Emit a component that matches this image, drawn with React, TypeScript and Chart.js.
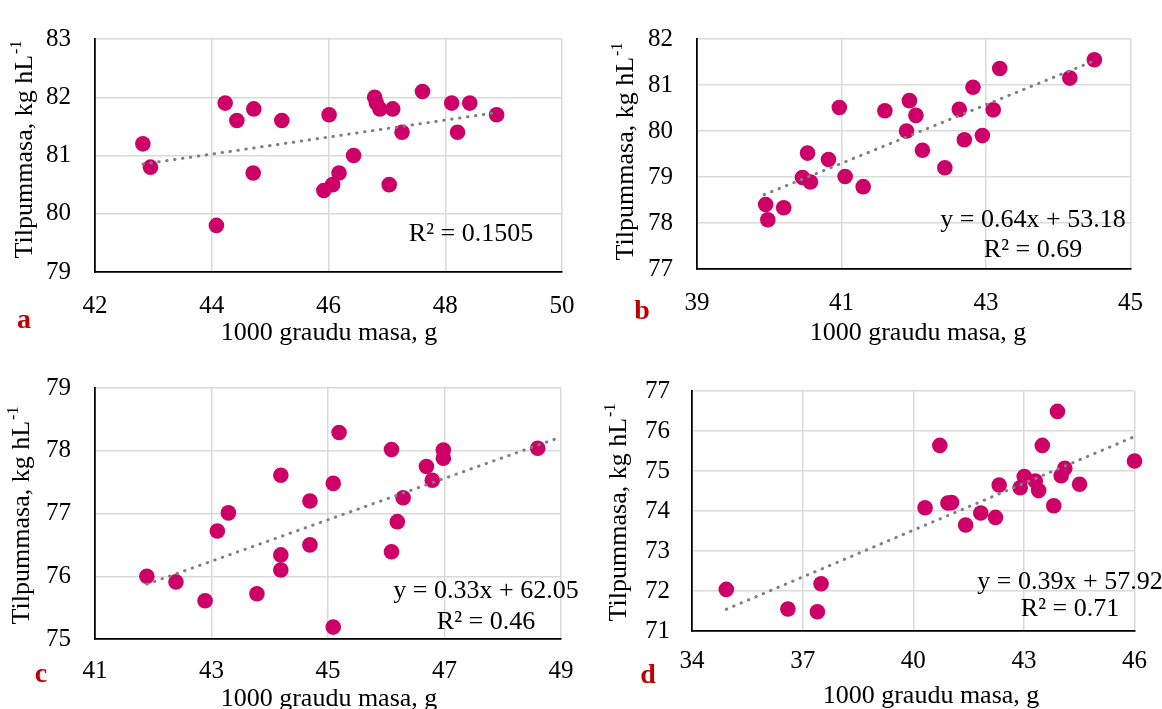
import React, { useEffect, useRef } from "react";
import { Chart, registerables } from "chart.js";

Chart.register(...registerables);

const FONT = '"Liberation Serif", "Times New Roman", Times, serif';
const W = 1162;
const H = 709;

// ---------- Panel a ----------
const aX = [42.82, 42.95, 44.08, 44.23, 44.43, 44.72, 44.71, 45.2, 46.01, 45.92, 46.07, 46.18, 46.43, 46.79, 46.82, 46.88, 47.1, 47.04, 47.26, 47.61, 48.11, 48.42, 48.21, 48.88];
const aY = [81.2, 80.8, 79.8, 81.9, 81.6, 81.8, 80.7, 81.6, 81.7, 80.4, 80.5, 80.7, 81.0, 82.0, 81.9, 81.8, 81.8, 80.5, 81.4, 82.1, 81.9, 81.9, 81.4, 81.7];
const aXTicks = [42, 44, 46, 48, 50];
const aYTicks = [79, 80, 81, 82, 83];
const aTrendCoef = [0.146, 74.6];
const aTrendRange = [42.82, 48.88];
const aEquation = ["R² = 0.1505"];

// ---------- Panel b ----------
const bX = [39.95, 39.98, 40.2, 40.46, 40.57, 40.53, 40.82, 40.97, 41.05, 41.3, 41.6, 41.9, 41.94, 42.03, 42.12, 42.43, 42.63, 42.7, 42.82, 42.95, 43.1, 43.19, 44.16, 44.5];
const bY = [78.4, 78.07, 78.33, 78.99, 78.89, 79.52, 79.38, 80.51, 79.01, 78.79, 80.44, 80.0, 80.66, 80.34, 79.58, 79.2, 80.47, 79.81, 80.95, 79.9, 80.46, 81.36, 81.15, 81.55];
const bXTicks = [39, 41, 43, 45];
const bYTicks = [77, 78, 79, 80, 81, 82];
const bTrendCoef = [0.637, 53.18];
const bTrendRange = [39.93, 44.48];
const bEquation = ["y = 0.64x + 53.18", "R² = 0.69"];

// ---------- Panel c ----------
const cX = [41.89, 42.39, 42.89, 43.1, 43.29, 43.78, 44.19, 44.19, 44.19, 44.69, 44.69, 45.09, 45.19, 45.09, 46.09, 46.09, 46.19, 46.29, 46.69, 46.79, 46.98, 46.98, 48.6];
const cY = [76.0, 75.91, 75.61, 76.72, 77.01, 75.72, 77.61, 76.34, 76.1, 77.2, 76.5, 77.48, 78.29, 75.19, 78.02, 76.39, 76.87, 77.25, 77.75, 77.53, 78.01, 77.88, 78.04];
const cXTicks = [41, 43, 45, 47, 49];
const cYTicks = [75, 76, 77, 78, 79];
const cTrendCoef = [0.33, 62.05];
const cTrendRange = [41.89, 49];
const cEquation = ["y = 0.33x + 62.05", "R² = 0.46"];

// ---------- Panel d ----------
const dX = [34.93, 36.6, 37.4, 37.5, 40.32, 40.72, 40.94, 41.04, 41.42, 41.83, 42.23, 42.33, 42.9, 43.01, 43.31, 43.4, 43.5, 43.81, 43.91, 44.01, 44.11, 44.51, 46.0];
const dY = [72.04, 71.55, 71.48, 72.18, 74.08, 75.64, 74.2, 74.21, 73.65, 73.95, 73.84, 74.65, 74.58, 74.86, 74.75, 74.51, 75.64, 74.13, 76.49, 74.88, 75.07, 74.67, 75.25];
const dXTicks = [34, 37, 40, 43, 46];
const dYTicks = [71, 72, 73, 74, 75, 76, 77];
const dTrendCoef = [0.39, 57.92];
const dTrendRange = [34.93, 46];
const dEquation = ["y = 0.39x + 57.92", "R² = 0.71"];

const X_TITLE = "1000 graudu masa, g";
const Y_TITLE = "Tilpummasa, kg hL";
const Y_TITLE_SUP = "-1";

type Panel = {
  letter: string;
  xs: number[];
  ys: number[];
  xTicks: number[];
  yTicks: number[];
  trendCoef: number[];
  trendRange: number[];
  equation: string[];
  plot: { l: number; r: number; t: number; b: number };
  xTickPad: number;
  yTickPad: number;
  eq: { x: number; y: number; gap: number };
  xTitle: { x: number; y: number };
  yTitle: { x: number; y: number };
  letterPos: { x: number; y: number };
};

const panels: Panel[] = [
  {
    letter: "a", xs: aX, ys: aY, xTicks: aXTicks, yTicks: aYTicks,
    trendCoef: aTrendCoef, trendRange: aTrendRange, equation: aEquation,
    plot: { l: 95, r: 562, t: 25, b: 272 }, xTickPad: 19, yTickPad: 24,
    eq: { x: 471, y: 241, gap: 30 }, xTitle: { x: 329, y: 340 }, yTitle: { x: 26, y: 150 },
    letterPos: { x: 24, y: 328 },
  },
  {
    letter: "b", xs: bX, ys: bY, xTicks: bXTicks, yTicks: bYTicks,
    trendCoef: bTrendCoef, trendRange: bTrendRange, equation: bEquation,
    plot: { l: 697, r: 1139, t: 31, b: 269 }, xTickPad: 19, yTickPad: 24,
    eq: { x: 1033, y: 227, gap: 30 }, xTitle: { x: 918, y: 340 }, yTitle: { x: 627, y: 152 },
    letterPos: { x: 642, y: 319 },
  },
  {
    letter: "c", xs: cX, ys: cY, xTicks: cXTicks, yTicks: cYTicks,
    trendCoef: cTrendCoef, trendRange: cTrendRange, equation: cEquation,
    plot: { l: 95, r: 561, t: 388, b: 639 }, xTickPad: 17, yTickPad: 24,
    eq: { x: 486, y: 598, gap: 31 }, xTitle: { x: 329, y: 706 }, yTitle: { x: 23, y: 516 },
    letterPos: { x: 41, y: 682 },
  },
  {
    letter: "d", xs: dX, ys: dY, xTicks: dXTicks, yTicks: dYTicks,
    trendCoef: dTrendCoef, trendRange: dTrendRange, equation: dEquation,
    plot: { l: 692, r: 1138, t: 391, b: 631 }, xTickPad: 15, yTickPad: 22,
    eq: { x: 1070, y: 589, gap: 27 }, xTitle: { x: 931, y: 703 }, yTitle: { x: 620, y: 513 },
    letterPos: { x: 648, y: 683 },
  },
];

const Y_AXIS_W = 60;
const X_AXIS_H = 50;

function makeChart(canvas: HTMLCanvasElement, p: Panel) {
  const points = p.xs.map((x, i) => ({ x, y: p.ys[i] }));
  const trend = p.trendRange.map((x) => ({ x, y: p.trendCoef[0] * x + p.trendCoef[1] }));

  const annotations = {
    id: "annot" + p.letter,
    afterDraw(chart: any) {
      const ctx: CanvasRenderingContext2D = chart.ctx;
      ctx.save();
      ctx.fillStyle = "#000";
      // x title
      ctx.font = `26px ${FONT}`;
      ctx.textAlign = "center";
      ctx.textBaseline = "alphabetic";
      ctx.fillText(X_TITLE, p.xTitle.x, p.xTitle.y);
      // equations
      p.equation.forEach((line, i) => {
        ctx.fillText(line, p.eq.x, p.eq.y + i * p.eq.gap);
      });
      // y title (rotated, with superscript)
      ctx.save();
      ctx.translate(p.yTitle.x, p.yTitle.y);
      ctx.rotate(-Math.PI / 2);
      ctx.textAlign = "left";
      ctx.font = `26px ${FONT}`;
      const w1 = ctx.measureText(Y_TITLE).width;
      ctx.font = `16px ${FONT}`;
      const w2 = ctx.measureText(Y_TITLE_SUP).width;
      const start = -(w1 + w2) / 2;
      ctx.font = `26px ${FONT}`;
      ctx.fillText(Y_TITLE, start, 6);
      ctx.font = `16px ${FONT}`;
      ctx.fillText(Y_TITLE_SUP, start + w1 + 1, -5);
      ctx.restore();
      // panel letter
      ctx.fillStyle = "#C00000";
      ctx.font = `bold 28px ${FONT}`;
      ctx.textAlign = "center";
      ctx.fillText(p.letter, p.letterPos.x, p.letterPos.y);
      ctx.restore();
    },
  };

  return new Chart(canvas, {
    type: "scatter",
    data: {
      datasets: [
        {
          data: trend,
          showLine: true,
          borderColor: "#808080",
          borderWidth: 3,
          borderDash: [0.5, 7.5],
          borderCapStyle: "round",
          pointRadius: 0,
          pointHoverRadius: 0,
          fill: false,
          clip: false,
          order: 0,
        } as any,
        {
          data: points,
          backgroundColor: "#CC0066",
          borderColor: "#CC0066",
          borderWidth: 0,
          pointRadius: 7.8,
          pointHoverRadius: 7.8,
          clip: false,
          order: 1,
        } as any,
      ],
    },
    options: {
      responsive: false,
      animation: false,
      devicePixelRatio: 1,
      events: [],
      layout: {
        padding: {
          left: p.plot.l - Y_AXIS_W,
          right: W - p.plot.r,
          top: p.plot.t,
          bottom: H - p.plot.b - X_AXIS_H,
        },
      },
      plugins: {
        legend: { display: false },
        tooltip: { enabled: false },
      },
      scales: {
        x: {
          type: "linear",
          position: "bottom",
          min: p.xTicks[0],
          max: p.xTicks[p.xTicks.length - 1],
          afterBuildTicks: (s: any) => {
            s.ticks = p.xTicks.map((v) => ({ value: v }));
          },
          afterFit: (s: any) => {
            s.height = X_AXIS_H;
          },
          grid: { color: "#D9D9D9", lineWidth: 1.5, drawTicks: false },
          border: { color: "#000", width: 1.75 },
          ticks: {
            font: { family: FONT, size: 25 },
            color: "#000",
            padding: p.xTickPad,
            maxRotation: 0,
            autoSkip: false,
          },
        },
        y: {
          type: "linear",
          position: "left",
          min: p.yTicks[0],
          max: p.yTicks[p.yTicks.length - 1],
          afterBuildTicks: (s: any) => {
            s.ticks = p.yTicks.map((v) => ({ value: v }));
          },
          afterFit: (s: any) => {
            s.width = Y_AXIS_W;
          },
          grid: { color: "#D9D9D9", lineWidth: 1.5, drawTicks: false },
          border: { color: "#000", width: 1.75 },
          ticks: {
            font: { family: FONT, size: 25 },
            color: "#000",
            padding: p.yTickPad,
            autoSkip: false,
          },
        },
      },
    } as any,
    plugins: [annotations],
  });
}

function PanelCanvas({ p }: { p: Panel }) {
  const ref = useRef<HTMLCanvasElement | null>(null);
  useEffect(() => {
    if (!ref.current) return;
    const chart = makeChart(ref.current, p);
    return () => chart.destroy();
  }, [p]);
  return (
    <canvas
      ref={ref}
      width={W}
      height={H}
      style={{ position: "absolute", left: 0, top: 0, width: W, height: H }}
    />
  );
}

export default function App() {
  return (
    <div
      style={{
        position: "absolute",
        left: 0,
        top: 0,
        width: W,
        height: H,
        background: "#ffffff",
        overflow: "hidden",
      }}
    >
      {panels.map((p) => (
        <PanelCanvas key={p.letter} p={p} />
      ))}
    </div>
  );
}
